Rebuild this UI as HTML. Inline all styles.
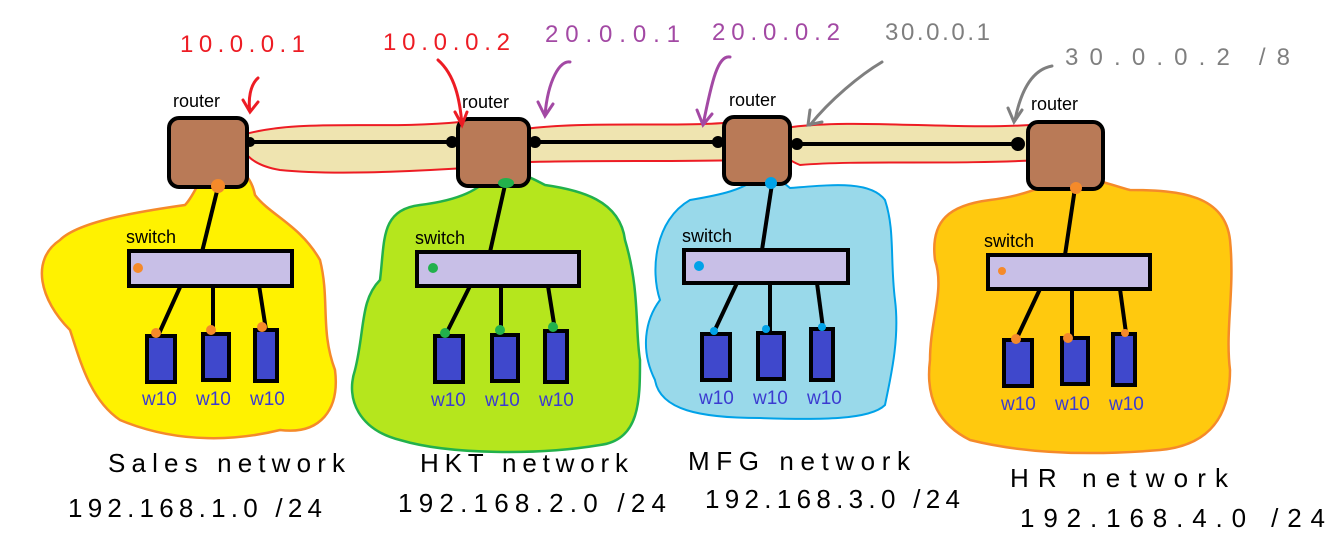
<!DOCTYPE html>
<html><head><style>
html,body{margin:0;padding:0;background:#fff;}
svg{display:block}
.lbl{font-family:"Liberation Sans",sans-serif;font-size:18px;fill:#000}
.w{font-family:"Liberation Sans",sans-serif;font-size:19px;fill:#3b3bd0}
.hand{font-family:"Liberation Sans",sans-serif;font-size:26px;fill:#000}
.ip{font-family:"Liberation Sans",sans-serif;font-size:24px}
</style></head><body>
<svg width="1340" height="560" viewBox="0 0 1340 560">
<!-- clouds -->
<path d="M210,170 C230,160 250,170 255,195 C270,215 300,225 320,260 C330,300 320,330 335,370 C340,410 320,435 280,430 C240,440 180,445 120,420 C90,400 80,360 70,330 C40,300 30,260 60,240 C80,220 150,210 185,205 C195,195 200,175 210,170Z" fill="#fff200" stroke="#f58a2a" stroke-width="2.5"/>
<path d="M495,172 C520,170 535,180 545,185 C580,190 620,200 625,240 C640,290 635,330 640,360 C640,400 640,440 600,445 C540,455 450,455 400,440 C360,430 345,400 355,370 C365,330 360,300 380,280 C385,240 380,210 420,205 C460,200 480,190 495,172Z" fill="#b5e61d" stroke="#22b14c" stroke-width="2.5"/>
<path d="M760,175 C770,170 780,180 790,188 C830,185 870,180 885,200 C895,230 890,260 895,300 C900,340 890,380 885,405 C870,420 820,420 760,418 C700,418 660,410 655,380 C640,350 645,320 660,300 C650,270 655,220 690,200 C720,195 745,190 760,175Z" fill="#99d9ea" stroke="#00a2e8" stroke-width="2"/>
<path d="M1060,178 C1090,175 1110,185 1130,190 C1180,190 1225,195 1230,240 C1235,290 1225,330 1230,370 C1230,410 1215,445 1160,450 C1100,455 1030,455 970,440 C940,425 925,400 930,360 C930,320 945,290 935,260 C930,220 950,205 990,200 C1030,195 1045,185 1060,178Z" fill="#ffc90e" stroke="#f58a2a" stroke-width="2.5"/>
<!-- links -->
<path d="M242,135 C300,118 380,130 460,122 L465,168 C400,172 330,175 280,170 C250,165 238,150 242,135Z" fill="#efe4b0" stroke="#ed1c24" stroke-width="2"/>
<path d="M518,130 C580,120 680,128 735,122 L738,160 C680,162 600,160 530,162 C510,150 510,138 518,130Z" fill="#efe4b0" stroke="#ed1c24" stroke-width="2"/>
<path d="M785,128 C850,118 950,130 1030,125 C1050,135 1055,150 1040,160 C950,165 860,160 800,165 C775,155 775,138 785,128Z" fill="#efe4b0" stroke="#ed1c24" stroke-width="2"/>
<g stroke="#000" stroke-width="4">
<line x1="250" y1="142" x2="455" y2="142"/><line x1="535" y1="142" x2="725" y2="142"/><line x1="795" y1="144" x2="1020" y2="144"/>
</g>
<g fill="#000"><circle cx="250" cy="142" r="5"/><circle cx="452" cy="142" r="6"/><circle cx="535" cy="142" r="6"/><circle cx="718" cy="142" r="6"/><circle cx="797" cy="144" r="6"/><circle cx="1018" cy="144" r="7"/></g>
<!-- routers -->
<g fill="#b97a57" stroke="#000" stroke-width="4">
<rect x="169" y="118" width="78" height="69" rx="10"/>
<rect x="458" y="119" width="71" height="67" rx="10"/>
<rect x="724" y="117" width="66" height="67" rx="10"/>
<rect x="1028" y="122" width="75" height="67" rx="10"/>
</g>
<text class="lbl" x="173" y="107">router</text><text class="lbl" x="462" y="108">router</text><text class="lbl" x="729" y="106">router</text><text class="lbl" x="1031" y="110">router</text>
<!-- router-switch lines -->
<g stroke="#000" stroke-width="4">
<line x1="218" y1="187" x2="202" y2="252"/><line x1="505" y1="185" x2="490" y2="252"/><line x1="772" y1="184" x2="762" y2="250"/><line x1="1075" y1="188" x2="1065" y2="255"/>
</g>
<!-- switches -->
<g fill="#c8bfe7" stroke="#000" stroke-width="4">
<rect x="129" y="251" width="163" height="35"/><rect x="417" y="252" width="162" height="34"/><rect x="684" y="250" width="164" height="33"/><rect x="988" y="255" width="162" height="34"/>
</g>
<text class="lbl" x="126" y="243">switch</text><text class="lbl" x="415" y="244">switch</text><text class="lbl" x="682" y="242">switch</text><text class="lbl" x="984" y="247">switch</text>
<!-- pc lines & pcs -->
<g stroke="#000" stroke-width="4">
<line x1="181" y1="285" x2="157" y2="338"/><line x1="213" y1="286" x2="213" y2="334"/><line x1="259" y1="285" x2="266" y2="330"/>
<line x1="470" y1="286" x2="445" y2="336"/><line x1="501" y1="286" x2="501" y2="334"/><line x1="548" y1="286" x2="555" y2="330"/>
<line x1="737" y1="283" x2="713" y2="334"/><line x1="770" y1="283" x2="770" y2="332"/><line x1="817" y1="283" x2="823" y2="328"/>
<line x1="1040" y1="289" x2="1016" y2="340"/><line x1="1072" y1="289" x2="1072" y2="337"/><line x1="1120" y1="289" x2="1126" y2="333"/>
</g>
<g fill="#3f48cc" stroke="#000" stroke-width="4">
<rect x="147" y="336" width="28" height="46"/><rect x="203" y="334" width="26" height="46"/><rect x="255" y="330" width="22" height="51"/>
<rect x="435" y="336" width="28" height="46"/><rect x="492" y="335" width="26" height="46"/><rect x="545" y="331" width="22" height="51"/>
<rect x="702" y="334" width="28" height="46"/><rect x="758" y="333" width="26" height="46"/><rect x="811" y="329" width="22" height="51"/>
<rect x="1004" y="340" width="28" height="46"/><rect x="1062" y="338" width="26" height="46"/><rect x="1113" y="334" width="22" height="51"/>
</g>
<g>
<text class="w" x="142" y="405">w10</text><text class="w" x="196" y="405">w10</text><text class="w" x="250" y="405">w10</text>
<text class="w" x="431" y="406">w10</text><text class="w" x="485" y="406">w10</text><text class="w" x="539" y="406">w10</text>
<text class="w" x="699" y="404">w10</text><text class="w" x="753" y="404">w10</text><text class="w" x="807" y="404">w10</text>
<text class="w" x="1001" y="410">w10</text><text class="w" x="1055" y="410">w10</text><text class="w" x="1109" y="410">w10</text>
</g>
<!-- port dots -->
<g fill="#f58a2a"><circle cx="218" cy="186" r="7"/><circle cx="138" cy="268" r="5"/><circle cx="156" cy="333" r="5"/><circle cx="211" cy="330" r="5"/><circle cx="262" cy="327" r="5"/>
<circle cx="1076" cy="188" r="6"/><circle cx="1002" cy="271" r="4"/><circle cx="1016" cy="339" r="5"/><circle cx="1068" cy="338" r="5"/><circle cx="1125" cy="333" r="4"/></g>
<g fill="#22b14c"><ellipse cx="506" cy="183" rx="8" ry="5"/><circle cx="433" cy="268" r="5"/><circle cx="445" cy="333" r="5"/><circle cx="500" cy="330" r="5"/><circle cx="553" cy="327" r="5"/></g>
<g fill="#00a2e8"><circle cx="771" cy="183" r="6"/><circle cx="699" cy="266" r="5"/><circle cx="714" cy="331" r="4"/><circle cx="766" cy="329" r="4"/><circle cx="822" cy="327" r="4"/></g>
<!-- ip labels and arrows -->
<text class="ip" x="180" y="52" fill="#ed1c24" textLength="125" lengthAdjust="spacing">10.0.0.1</text>
<text class="ip" x="383" y="50" fill="#ed1c24" textLength="127" lengthAdjust="spacing">10.0.0.2</text>
<text class="ip" x="545" y="42" fill="#a349a4" textLength="135" lengthAdjust="spacing">20.0.0.1</text>
<text class="ip" x="712" y="40" fill="#a349a4" textLength="128" lengthAdjust="spacing">20.0.0.2</text>
<text class="ip" x="885" y="40" fill="#7f7f7f" textLength="105" lengthAdjust="spacing">30.0.0.1</text>
<text class="ip" x="1065" y="65" fill="#7f7f7f" textLength="225" lengthAdjust="spacing">30.0.0.2 /8</text>
<g fill="none" stroke-width="3" stroke-linecap="round">
<path d="M258,78 C250,85 248,100 250,112 M243,100 L250,112 L258,102" stroke="#ed1c24"/>
<path d="M438,60 C455,75 460,100 462,125 M455,112 L462,125 L467,112" stroke="#ed1c24"/>
<path d="M570,62 C560,60 548,80 545,115 M538,102 L545,116 L553,104" stroke="#a349a4"/>
<path d="M730,57 C718,55 712,80 703,125 M697,110 L703,125 L712,114" stroke="#a349a4"/>
<path d="M882,62 C860,75 830,100 810,125 M810,110 L808,125 L822,122" stroke="#7f7f7f"/>
<path d="M1052,66 C1030,70 1020,95 1015,120 M1008,108 L1014,122 L1022,110" stroke="#7f7f7f"/>
</g>
<!-- network labels -->
<text class="hand" x="108" y="472" textLength="237" lengthAdjust="spacing">Sales network</text>
<text class="hand" x="68" y="517" textLength="254" lengthAdjust="spacing">192.168.1.0 /24</text>
<text class="hand" x="420" y="472" textLength="208" lengthAdjust="spacing">HKT network</text>
<text class="hand" x="398" y="512" textLength="268" lengthAdjust="spacing">192.168.2.0 /24</text>
<text class="hand" x="688" y="470" textLength="222" lengthAdjust="spacing">MFG network</text>
<text class="hand" x="705" y="508" textLength="255" lengthAdjust="spacing">192.168.3.0 /24</text>
<text class="hand" x="1010" y="487" textLength="218" lengthAdjust="spacing">HR network</text>
<text class="hand" x="1020" y="527" textLength="305" lengthAdjust="spacing">192.168.4.0 /24</text>
</svg>
</body></html>
